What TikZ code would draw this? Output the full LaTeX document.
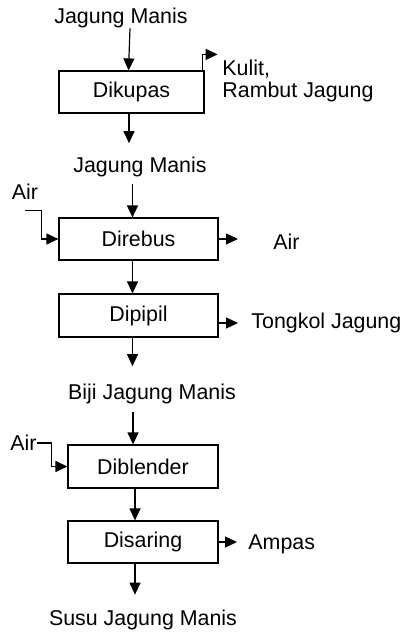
\documentclass[tikz,border=0pt]{standalone}
\usepackage{fontspec}
\setmainfont{Liberation Sans}
\usetikzlibrary{%
    arrows.meta,calc%
}

\begin{document}
\begin{tikzpicture}[x=0.5pt,y=-0.5pt,
    proses/.style={draw,semithick,inner sep=0pt,minimum width=77.5pt,minimum height=21pt},
    teks/.style={inner sep=0pt,font={\fontsize{10.7pt}{10.9pt}\selectfont}},
    alir/.style={semithick,-{Triangle[length=6pt,width=5.5pt]}}]
\useasboundingbox (0,0) rectangle (404,632);

% proses
\node[proses,teks,minimum width=72.5pt] (kupas) at (131.5,92) {Dikupas};
\node[proses,teks,minimum width=79.5pt] (rebus) at (138.5,239) {Direbus};
\node[proses,teks,minimum width=79.5pt,minimum height=21.5pt] (pipil) at (138.5,315.5) {Dipipil};
\node[proses,teks,minimum width=75pt,minimum height=21.5pt] (blender) at (143,466.5) {Diblender};
\node[proses,teks,minimum width=75pt] (saring) at (143,542) {Disaring};

% bahan
\node[teks] (jm1) at (121,18) {Jagung Manis};
\node[teks,anchor=west,align=left] (kulit) at (222,81) {Kulit,\\Rambut Jagung};
\node[teks] (jm2) at (140,166.5) {Jagung Manis};
\node[teks] (air1) at (25,192) {Air};
\node[teks,anchor=west] (air2) at (273,242) {Air};
\node[teks,anchor=west] (tongkol) at (251,323) {Tongkol Jagung};
\node[teks] (biji) at (152,393.5) {Biji Jagung Manis};
\node[teks] (air3) at (23.5,443) {Air};
\node[teks,anchor=west] (ampas) at (248,544) {Ampas};
\node[teks] (susu) at (143,620) {Susu Jagung Manis};

% aliran
\draw[alir] (jm1.south -| kupas.north) ++(-1.5,0) -- ([xshift=-1.5pt]kupas.north);
\draw[semithick] ($(kupas.north east)+(-21,0)$) -- ($(kupas.north east)+(-2,0)$) coordinate (k1);
\draw[alir] (k1) -- ++(0,-16) -- ++(15,0);
\draw[alir,shorten >=6.5pt] ([xshift=-1.25pt]kupas.south) -- ([xshift=-1.25pt]kupas.south |- jm2.north);

\draw[alir,shorten <=3.5pt] ([xshift=-3pt]rebus.north |- jm2.south) -- ([xshift=-3pt]rebus.north);
\draw[alir] ($(air1.south)+(0,10)$) -| ($(rebus.west)+(-17,0)$) -- (rebus.west);
\draw[alir,shorten >=17.5pt] (rebus.east) -- (rebus.east -| air2.west);
\draw[alir] ([xshift=-3pt]rebus.south) -- ([xshift=-3pt]pipil.north);

\draw[semithick] ($(pipil.north east)+(-15,0)$) -- (pipil.north east);
\draw[alir,shorten >=6.5pt] (pipil.north east) |- (tongkol.west);
\draw[alir,shorten >=8.5pt] ([xshift=-3pt]pipil.south) -- ([xshift=-3pt]pipil.south |- biji.north);

\draw[alir,shorten <=4pt] ([xshift=-5pt]blender.north |- biji.south) -- ([xshift=-5pt]blender.north);
\draw[alir] (air3.east) -| ($(blender.west)+(-16,0)$) -- (blender.west);
\draw[alir] ([xshift=-4pt]blender.south) -- ([xshift=-4pt]saring.north);

\draw[alir,shorten >=5.5pt] (saring.east) -- (saring.east -| ampas.west);
\draw[alir,shorten >=7.5pt] ([xshift=-4pt]saring.south) -- ([xshift=-4pt]saring.south |- susu.north);

\end{tikzpicture}
\end{document}
